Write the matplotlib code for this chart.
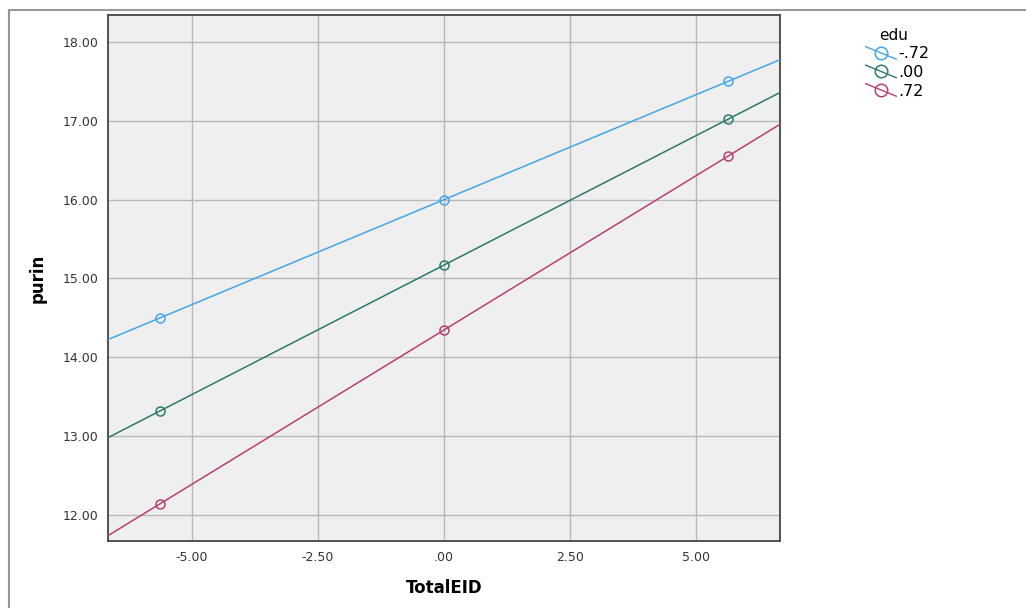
import numpy as np
import matplotlib
matplotlib.use("Agg")
import matplotlib.pyplot as plt
from matplotlib.legend_handler import HandlerBase
from matplotlib.lines import Line2D
from matplotlib.patches import Rectangle

# Data
groups = ["-.72", ".00", ".72"]
x_vals = [-5.635, 0.0, 5.635]
y_blue = [14.50, 16.00, 17.50]
y_green = [13.32, 15.17, 17.02]
y_red = [12.14, 14.35, 16.55]
colors = ["#45a6ea", "#2c7a6f", "#b8406f"]
x_ticks = [-5.0, -2.5, 0.0, 2.5, 5.0]
x_tick_labels = ["-5.00", "-2.50", ".00", "2.50", "5.00"]
y_ticks = [12, 13, 14, 15, 16, 17, 18]
y_tick_labels = ["12.00", "13.00", "14.00", "15.00", "16.00", "17.00", "18.00"]

fig = plt.figure(figsize=(10.26, 6.08), dpi=100)
W, H = 1026, 608
ax = fig.add_axes([108 / W, 1 - 541 / H, (780 - 108) / W, (541 - 15) / H])
ax.set_facecolor("#efefef")
xlim = (-6.667, 6.667)
ax.set_xlim(*xlim)
ax.set_ylim(11.67, 18.342)

for ys, c in zip([y_blue, y_green, y_red], colors):
    k, b = np.polyfit(x_vals, ys, 1)
    xx = np.array(xlim)
    ax.plot(xx, k * xx + b, color=c, lw=1.1, zorder=3)
    ax.plot(x_vals, ys, ls="none", marker="o", ms=6.5, mfc="none", mec=c, mew=1.1, zorder=4)

ax.set_xticks(x_ticks)
ax.set_xticklabels(x_tick_labels)
ax.set_yticks(y_ticks)
ax.set_yticklabels(y_tick_labels)
ax.tick_params(length=0, labelsize=9, colors="#333333", pad=7)
ax.grid(True, color="#b8b8b8", lw=1.0, zorder=1)
ax.set_axisbelow(True)
for s in ax.spines.values():
    s.set_color("#444444")
    s.set_linewidth(1.3)

ax.set_xlabel("TotalEID", fontsize=12, fontweight="bold", labelpad=11)
ax.set_ylabel("purin", fontsize=12, fontweight="bold", labelpad=11)

# outer border
fig.patches.append(Rectangle((9 / W, -0.1), 1.2, 1 - 10 / H + 0.1, transform=fig.transFigure,
                             fill=False, edgecolor="#999999", lw=1.5, zorder=0))


class DiagHandler(HandlerBase):
    def create_artists(self, legend, orig_handle, xdescent, ydescent, width, height, fontsize, trans):
        c = orig_handle.get_color()
        cx = width / 2 - xdescent
        cy = height / 2 - ydescent
        ln = Line2D([cx - 11, cx + 11], [cy + 4.5, cy - 4.5], color=c, lw=1.0, transform=trans)
        mk = Line2D([cx], [cy], marker="o", ms=9, mfc="none", mec=c, mew=1.1, ls="none", transform=trans)
        return [ln, mk]


handles = [Line2D([], [], color=c) for c in colors]
leg = fig.legend(handles, groups, title="edu", loc="upper left", bbox_to_anchor=(857 / W, 1 - 20 / H),
                 frameon=False, fontsize=11.5, title_fontsize=11, handler_map={Line2D: DiagHandler()},
                 handlelength=2.0, handletextpad=0.1, labelspacing=0.22, borderpad=0,
                 alignment="left")
leg.get_title().set_position((14, 0))
fig.savefig("out.png", dpi=100)
